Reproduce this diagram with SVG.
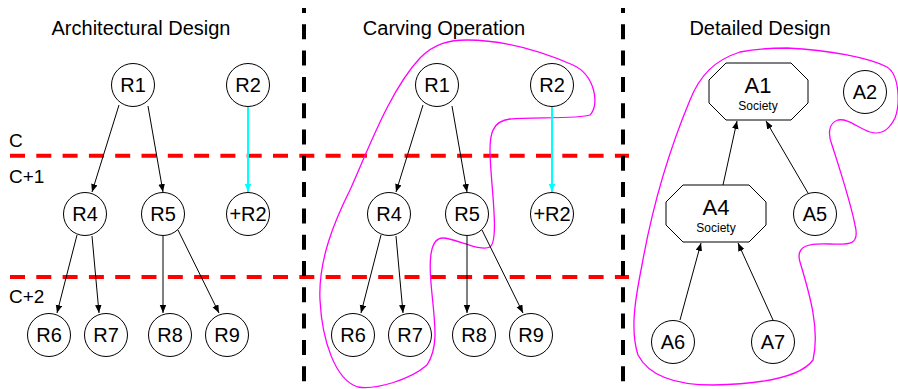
<svg xmlns="http://www.w3.org/2000/svg" width="898" height="389" viewBox="0 0 898 389">
<style>
text{font-family:"Liberation Sans",Arial,sans-serif;fill:#000}
.t{font-size:20px;text-anchor:middle}
.lbl{font-size:19px}
.n circle{fill:#fff;stroke:#000;stroke-width:1}
.n text{font-size:20px;text-anchor:middle}
.oct polygon{fill:#fff;stroke:#000;stroke-width:1}
.big{font-size:22px;text-anchor:middle}
.soc{font-size:12px;text-anchor:middle}
.hd{stroke:#ff0000;stroke-width:4;stroke-dasharray:15 11.3;fill:none}
.vd{stroke:#000;stroke-width:4;stroke-dasharray:15 11.3;stroke-dashoffset:10;fill:none}
.e{stroke:#000;stroke-width:1;fill:none;marker-end:url(#ah)}
.ec{stroke:#00ffff;stroke-width:2;fill:none;marker-end:url(#ahc)}
.blob{fill:none;stroke:#ff00ff;stroke-width:1.3}
</style>
<defs>
<marker id="ah" markerUnits="userSpaceOnUse" markerWidth="9" markerHeight="7" refX="8" refY="3.25" orient="auto"><path d="M0,0 L8,3.25 L0,6.5 z" fill="#000"/></marker>
<marker id="ahc" markerUnits="userSpaceOnUse" markerWidth="9" markerHeight="7" refX="8" refY="3.25" orient="auto"><path d="M0,0 L8,3.25 L0,6.5 z" fill="#00ffff"/></marker>
</defs>
<rect width="898" height="389" fill="#fff"/>

<g id="titles">
<text class="t" x="141" y="35">Architectural Design</text>
<text class="t" x="444" y="35">Carving Operation</text>
<text class="t" x="760" y="35">Detailed Design</text>
</g>

<g id="levels">
<line class="hd" x1="10" y1="155.7" x2="629" y2="155.7"/>
<line class="hd" x1="10" y1="277" x2="629" y2="277"/>
<line class="vd" x1="304" y1="8" x2="304" y2="389"/>
<line class="vd" x1="623" y1="8" x2="623" y2="389"/>
<text class="lbl" x="9" y="147">C</text>
<text class="lbl" x="9" y="183">C+1</text>
<text class="lbl" x="9" y="303">C+2</text>
</g>

<g id="blobs">
<path class="blob" d="M467,40 C510,40 550,55 573,65 C595,75 600,105 590,115 C580,119 530,117 510,119 C492,121 490,135 490,150 C490,180 500,240 490,247 C480,252 455,238 443,238 C430,238 429,260 431,283 C434,320 440,345 427,365 C410,380 375,390 358,387 C335,380 322,340 320,300 C318,260 335,220 350,190 C368,150 390,90 420,58 C435,43 450,40 467,40 Z"/>
<path class="blob" d="M787,48 C830,50 870,58 887,67 C900,75 900,105 895,118 C888,132 880,135 870,132 C858,128 848,118 838,120 C828,123 828,135 832,145 C840,170 850,200 855,225 C860,245 850,245 830,244 C810,243 795,245 800,262 C810,295 820,330 813,360 C800,378 760,384 713,385 C680,385 650,378 638,355 C630,330 635,300 642,265 C650,220 665,160 690,100 C700,75 715,60 740,52 C760,48 775,48 787,48 Z"/>
</g>

<g id="connectors">
<line class="e" x1="119" y1="105" x2="92" y2="192"/>
<line class="e" x1="148" y1="106" x2="163" y2="192"/>
<line class="ec" x1="248" y1="107" x2="248" y2="192"/>
<line class="e" x1="77" y1="235" x2="57" y2="313"/>
<line class="e" x1="92" y1="236" x2="99" y2="313"/>
<line class="e" x1="163" y1="236" x2="163" y2="313"/>
<line class="e" x1="178" y1="230" x2="219" y2="313"/>

<line class="e" x1="423" y1="105" x2="396" y2="192"/>
<line class="e" x1="452" y1="106" x2="467" y2="192"/>
<line class="ec" x1="552" y1="107" x2="552" y2="192"/>
<line class="e" x1="381" y1="235" x2="361" y2="313"/>
<line class="e" x1="396" y1="236" x2="403" y2="313"/>
<line class="e" x1="467" y1="236" x2="467" y2="313"/>
<line class="e" x1="482" y1="230" x2="523" y2="313"/>

<line class="e" x1="723" y1="185" x2="737" y2="121"/>
<line class="e" x1="808" y1="193" x2="766" y2="121"/>
<line class="e" x1="680" y1="320" x2="701" y2="243"/>
<line class="e" x1="773" y1="320" x2="738" y2="243"/>
</g>

<g id="L-R1" class="n"><circle cx="133" cy="85" r="21.5"/><text x="133" y="92">R1</text></g>
<g id="L-R2" class="n"><circle cx="248" cy="85" r="21.5"/><text x="248" y="92">R2</text></g>
<g id="L-R4" class="n"><circle cx="85" cy="214" r="21.5"/><text x="85" y="221">R4</text></g>
<g id="L-R5" class="n"><circle cx="163" cy="214" r="21.5"/><text x="163" y="221">R5</text></g>
<g id="L-pR2" class="n"><circle cx="248" cy="214" r="21.5"/><text x="248" y="221">+R2</text></g>
<g id="L-R6" class="n"><circle cx="49" cy="335" r="21.5"/><text x="49" y="342">R6</text></g>
<g id="L-R7" class="n"><circle cx="106" cy="335" r="21.5"/><text x="106" y="342">R7</text></g>
<g id="L-R8" class="n"><circle cx="170" cy="335" r="21.5"/><text x="170" y="342">R8</text></g>
<g id="L-R9" class="n"><circle cx="227" cy="335" r="21.5"/><text x="227" y="342">R9</text></g>

<g id="M-R1" class="n"><circle cx="437" cy="85" r="21.5"/><text x="437" y="92">R1</text></g>
<g id="M-R2" class="n"><circle cx="552" cy="85" r="21.5"/><text x="552" y="92">R2</text></g>
<g id="M-R4" class="n"><circle cx="389" cy="214" r="21.5"/><text x="389" y="221">R4</text></g>
<g id="M-R5" class="n"><circle cx="467" cy="214" r="21.5"/><text x="467" y="221">R5</text></g>
<g id="M-pR2" class="n"><circle cx="552" cy="214" r="21.5"/><text x="552" y="221">+R2</text></g>
<g id="M-R6" class="n"><circle cx="353" cy="335" r="21.5"/><text x="353" y="342">R6</text></g>
<g id="M-R7" class="n"><circle cx="410" cy="335" r="21.5"/><text x="410" y="342">R7</text></g>
<g id="M-R8" class="n"><circle cx="474" cy="335" r="21.5"/><text x="474" y="342">R8</text></g>
<g id="M-R9" class="n"><circle cx="531" cy="335" r="21.5"/><text x="531" y="342">R9</text></g>

<g id="A1" class="oct"><polygon points="726,63 791,63 808,80 808,103 791,120 726,120 709,103 709,80"/><text class="big" x="758" y="93">A1</text><text class="soc" x="758" y="110">Society</text></g>
<g id="A4" class="oct"><polygon points="683,185 749,185 766,202 766,225 749,242 683,242 666,225 666,202"/><text class="big" x="716" y="215">A4</text><text class="soc" x="716" y="232">Society</text></g>
<g id="A2" class="n"><circle cx="865" cy="92" r="21.5"/><text x="865" y="99">A2</text></g>
<g id="A5" class="n"><circle cx="815" cy="214" r="21.5"/><text x="815" y="221">A5</text></g>
<g id="A6" class="n"><circle cx="673" cy="342" r="21.5"/><text x="673" y="349">A6</text></g>
<g id="A7" class="n"><circle cx="773" cy="342" r="21.5"/><text x="773" y="349">A7</text></g>
</svg>
